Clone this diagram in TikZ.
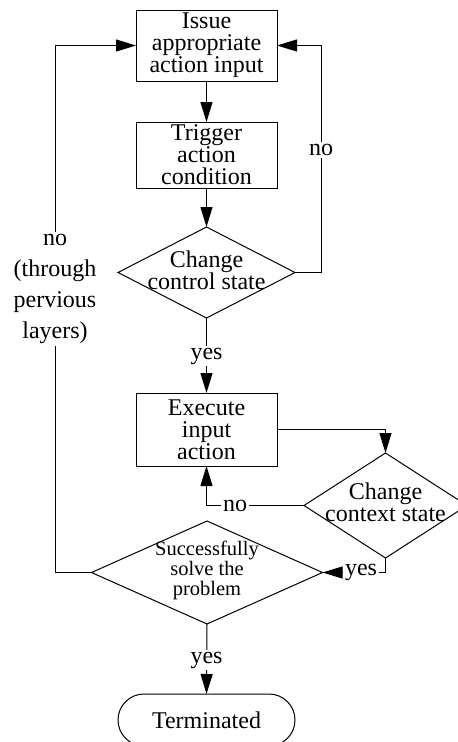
\documentclass[tikz,border=0pt]{standalone}
\usepackage{fontspec}
\setmainfont{Liberation Serif}
\usetikzlibrary{arrows.meta,shapes.geometric,shapes.misc}
\begin{document}
\begin{tikzpicture}[x=1pt,y=-1pt,
  every node/.style={outer sep=0pt},
  bigtext/.style={font=\fontsize{24}{22}\selectfont, align=center},
  stepbox/.style={draw, line width=1pt, rectangle, minimum width=141pt, inner sep=0pt, bigtext},
  decision/.style={draw, line width=1pt, diamond, inner sep=0pt},
  txt/.style={bigtext, inner sep=0pt},
  lbl/.style={fill=white, inner sep=2pt, font=\fontsize{24}{31}\selectfont, align=center},
  arr/.style={line width=1pt, -{Triangle[length=20pt,width=12pt]}}
]
\clip (0,0) rectangle (458,742);

% process steps and decisions
\node[stepbox, minimum height=71pt] (issue) at (206.5,45.5) {Issue\\appropriate\\action input};
\node[stepbox, minimum height=66pt] (trigger) at (206.5,155) {Trigger\\action\\condition};
\node[decision, minimum width=177pt, minimum height=91pt] (ctrl) at (206.5,272.5) {};
\node[txt] (ctrlT) at (206.5,270) {Change\\control state};
\node[stepbox, minimum height=73pt] (exec) at (206.5,429.5) {Execute\\input\\action};
\node[decision, minimum width=163pt, minimum height=105pt] (ctx) at (385.5,505.5) {};
\node[txt] (ctxT) at (385.5,502) {Change\\context state};
\node[decision, minimum width=231pt, minimum height=103pt] (solve) at (207,572.5) {};
\node[txt, font=\fontsize{20.5}{20}\selectfont] (solveT) at (207,570) {Successfully\\solve the\\problem};
\node[draw, line width=1pt, rounded rectangle, minimum width=177pt, minimum height=52pt, inner sep=0pt, bigtext] (term) at (206.5,720) {Terminated};

% bend points of the feedback loops
\coordinate (rgt) at (321,45.5);
\coordinate (lft) at (55,45.5);

% connectors
\draw[arr] (issue) -- (trigger);
\draw[arr] (trigger) -- (ctrl);
\draw[arr] (ctrl.east) -| (rgt) -- (issue.east);
\node[lbl] (noA) at (321,150) {no};
\draw[arr] (ctrl.south) -- (exec.north);
\node[lbl] (yesA) at (206.5,356) {yes};
\draw[arr] (exec.east) -| (ctx.north);
\draw[arr] (ctx.west) -| (exec.south);
\node[lbl] (noB) at (235,505.5) {no};
\draw[arr] (ctx.south) |- (solve.east);
\node[lbl] (yesB) at (361,572.5) {yes};
\draw[arr] (solve.west) -| (lft) -- (issue.west);
\node[lbl] (noC) at (55,289) {no\\(through\\pervious\\layers)};
\draw[arr] (solve.south) -- (term.north);
\node[lbl] (yesC) at (206.5,660) {yes};
\end{tikzpicture}
\end{document}
